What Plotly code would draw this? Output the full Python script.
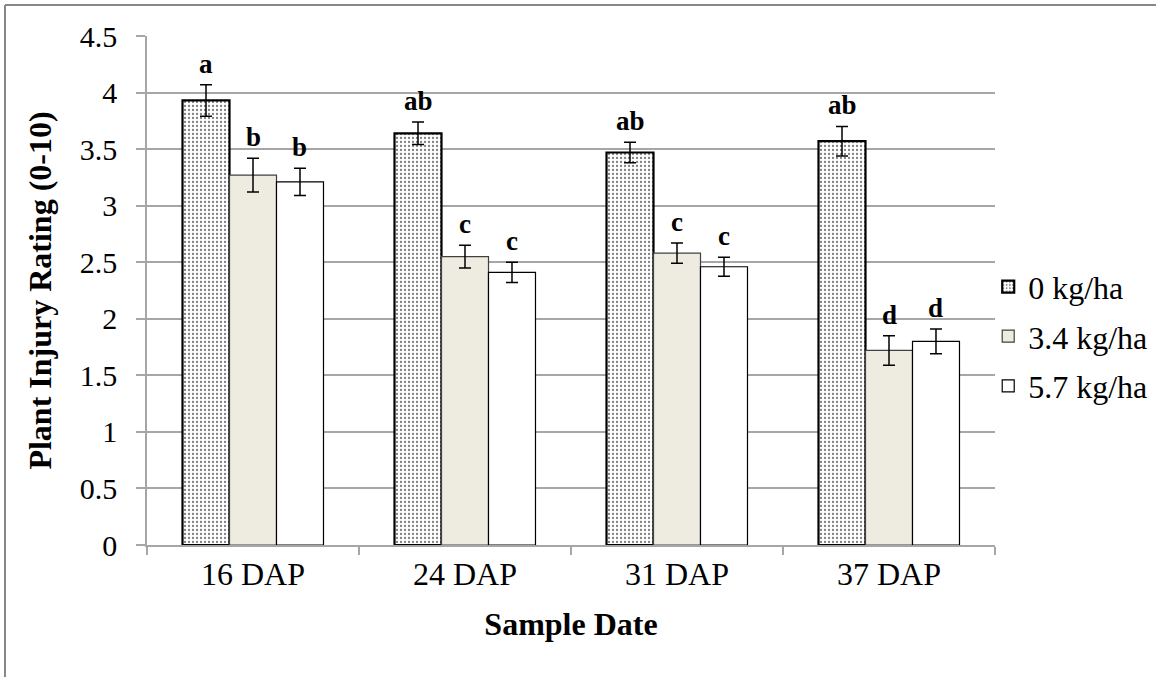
import plotly.graph_objects as go

categories = ["16 DAP", "24 DAP", "31 DAP", "37 DAP"]
series_names = ["0 kg/ha", "3.4 kg/ha", "5.7 kg/ha"]
vals_0 = [3.93, 3.64, 3.47, 3.57]
err_0 = [0.14, 0.10, 0.09, 0.13]
vals_34 = [3.27, 2.55, 2.58, 1.72]
err_34 = [0.15, 0.10, 0.09, 0.13]
vals_57 = [3.21, 2.41, 2.46, 1.80]
err_57 = [0.12, 0.09, 0.085, 0.11]
letters_0 = ["a", "ab", "ab", "ab"]
letters_34 = ["b", "c", "c", "d"]
letters_57 = ["b", "c", "c", "d"]
y_ticks = [0, 0.5, 1, 1.5, 2, 2.5, 3, 3.5, 4, 4.5]

FONT = "Liberation Serif, Times New Roman, serif"
BARGAP = 0.335
GRID = "#A6A6A6"
W, H = 1156, 677
ML, MR, MT, MB = 147, 161, 36, 132
PW, PH = W - ML - MR, H - MT - MB

fig = go.Figure()

styles = [
    dict(color="white", line=dict(color="black", width=2.2),
         pattern=dict(shape=".", fgcolor="black", bgcolor="white", size=4, solidity=0.25, fillmode="overlay")),
    dict(color="#EEECE1", line=dict(color="#404040", width=1.2)),
    dict(color="white", line=dict(color="black", width=1.2)),
]
all_vals = [vals_0, vals_34, vals_57]
all_errs = [err_0, err_34, err_57]
all_letters = [letters_0, letters_34, letters_57]

for i, (name, v, e, st) in enumerate(zip(series_names, all_vals, all_errs, styles)):
    fig.add_trace(go.Bar(
        x=categories, y=v, name=name, marker=st, legendgroup=name,
        error_y=dict(type="data", array=e, visible=True, color="black", thickness=1.5, width=6),
    ))

# letter labels above error bars
n = len(series_names)
w = (1 - BARGAP) / n
for i in range(n):
    off = (i - (n - 1) / 2) * w
    for j, cat in enumerate(categories):
        fig.add_annotation(
            x=j + off, y=all_vals[i][j] + all_errs[i][j], xref="x", yref="y",
            text="<b>%s</b>" % all_letters[i][j], showarrow=False,
            yanchor="bottom", yshift=4,
            font=dict(family=FONT, size=27, color="black"),
        )

# outer frame (left and top edges)
fx = (5 - ML) / PW
fy = (H - MB - 5) / PH
fig.add_shape(type="line", xref="paper", yref="paper", x0=fx, x1=fx, y0=-1, y1=fy,
              line=dict(color="#878787", width=2))
fig.add_shape(type="line", xref="paper", yref="paper", x0=fx, x1=2, y0=fy, y1=fy,
              line=dict(color="#878787", width=2))

fig.update_layout(
    width=W, height=H,
    margin=dict(l=ML, r=MR, t=MT, b=MB, autoexpand=False),
    paper_bgcolor="white", plot_bgcolor="white",
    barmode="group", bargap=BARGAP, bargroupgap=0,
    font=dict(family=FONT, color="black", size=32),
    legend=dict(x=0.992, xanchor="left", y=0.41, yanchor="middle",
                font=dict(family=FONT, size=32), tracegroupgap=5,
                bgcolor="rgba(0,0,0,0)"),
    showlegend=True,
)
fig.update_xaxes(
    type="category", showline=True, linecolor=GRID, linewidth=1.5,
    ticks="outside", tickson="boundaries", ticklen=8, tickcolor=GRID, tickwidth=1.5,
    tickfont=dict(family=FONT, size=32),
    title=dict(text="<b>Sample Date</b>", font=dict(family=FONT, size=32), standoff=21),
    automargin=False,
)
fig.update_yaxes(
    range=[0, 4.5], tickvals=y_ticks, ticktext=[("%g" % t) for t in y_ticks],
    showline=True, linecolor=GRID, linewidth=1.5,
    showgrid=True, gridcolor=GRID, gridwidth=1.5,
    ticks="outside", ticklen=9, tickcolor=GRID, tickwidth=1.5,
    tickfont=dict(family=FONT, size=30), ticklabelstandoff=13,
    title=dict(text="<b>Plant Injury Rating (0-10)</b>", font=dict(family=FONT, size=32), standoff=19),
    zeroline=False, automargin=False,
)

fig.write_html("out.html", config={"displayModeBar": False},
               post_script="document.body.style.margin='0';document.body.style.overflow='hidden';")
